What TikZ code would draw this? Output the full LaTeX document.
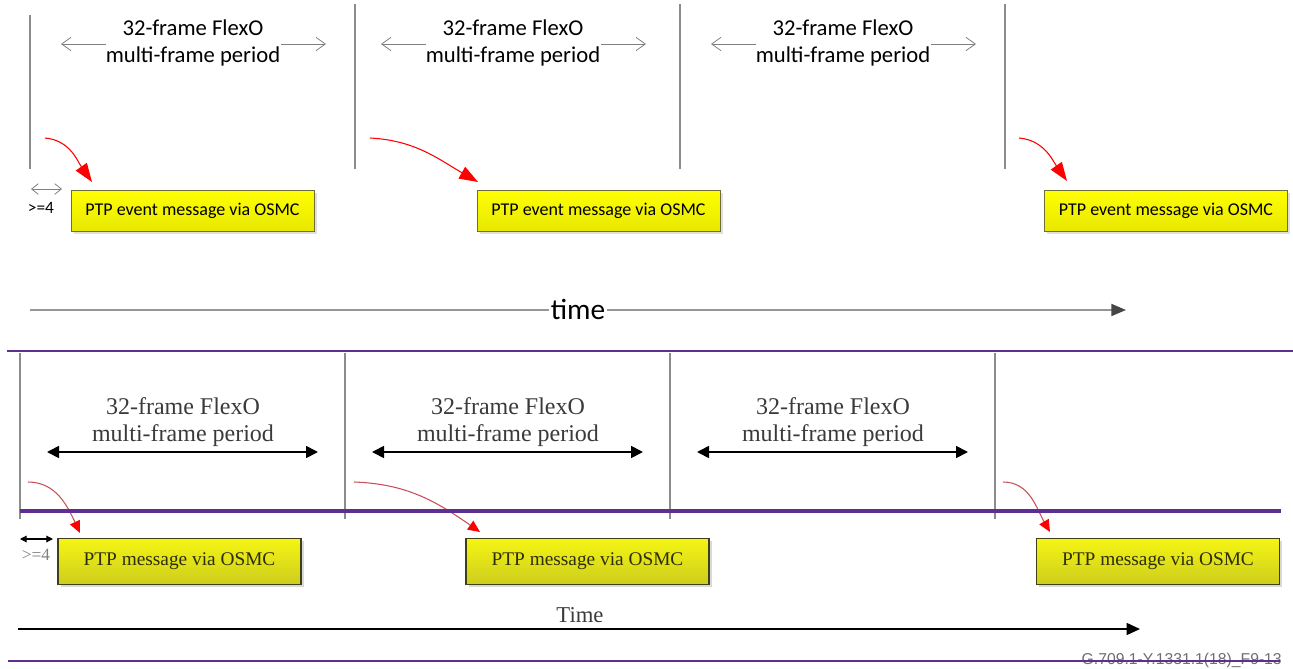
\documentclass[tikz,border=0pt]{standalone}
\usepackage{fontspec}
\setmainfont{Liberation Serif}
\newfontfamily\calfont{Carlito}
\newfontfamily\arialfont{Liberation Sans}
\usetikzlibrary{arrows.meta,shadows}
\definecolor{purp}{HTML}{5E2F91}
\definecolor{gline}{HTML}{8C8C8C}
\definecolor{boxolive}{HTML}{3F3F18}
\definecolor{txtolive}{HTML}{2E2E08}
\definecolor{lbl}{HTML}{3A3A3A}
\definecolor{redline}{HTML}{C8505A}
\tikzset{
  tline/.style={draw=gline, line width=1.1pt},
  toplbl/.style={font=\calfont\fontsize{17}{20.5}\selectfont, align=center, inner sep=0pt},
  botlbl/.style={font=\fontsize{18}{20.5}\selectfont, align=center, inner sep=0pt, text=lbl},
  topdim/.style={draw=gray, line width=0.6pt, -{Straight Barb[length=7pt,width=10pt]}},
  topred/.style={draw=red, line width=0.8pt, -{Triangle[length=14pt,width=10pt,fill=red]}},
  botred/.style={draw=redline, line width=0.8pt, -{Triangle[length=9pt,width=8pt,color=red,fill=red]}},
  botdim/.style={draw=black, line width=1.3pt, {Triangle[length=9pt,width=9pt]}-{Triangle[length=9pt,width=9pt]}},
  topbox/.style={draw={rgb,255:red,110;green,110;blue,60}, line width=0.6pt,
    top color=yellow, bottom color={rgb,255:red,232;green,232;blue,0},
    minimum width=182.25pt, minimum height=30.75pt, inner sep=0pt,
    font=\calfont\fontsize{13.5}{16}\selectfont,
    drop shadow={shadow xshift=2pt, shadow yshift=-2pt, opacity=0.25, fill=gray}},
  botbox/.style={draw=boxolive, line width=1.2pt,
    top color={rgb,255:red,245;green,245;blue,20}, bottom color={rgb,255:red,205;green,205;blue,30},
    minimum width=182.25pt, minimum height=34.5pt, inner sep=0pt, text=txtolive,
    font=\fontsize{14.5}{16}\selectfont,
    drop shadow={shadow xshift=2pt, shadow yshift=-2pt, opacity=0.3, fill=gray}},
  purpline/.style={draw=purp},
}
\begin{document}
\begin{tikzpicture}[x=0.75pt,y=-0.75pt]
\useasboundingbox (0,0) rectangle (1293,668);
% ================= TOP FIGURE =================
% vertical lines
\coordinate (tv1a) at (30,15);  \coordinate (tv1b) at (30,169);
\coordinate (tv2a) at (355,4);  \coordinate (tv2b) at (355,169);
\coordinate (tv3a) at (680,4);  \coordinate (tv3b) at (680,169);
\coordinate (tv4a) at (1005,4); \coordinate (tv4b) at (1005,169);
\draw[tline] (tv1a) -- (tv1b);
\draw[tline] (tv2a) -- (tv2b);
\draw[tline] (tv3a) -- (tv3b);
\draw[tline] (tv4a) -- (tv4b);
% period labels
\node[toplbl] (tl1) at (193,43) {32-frame FlexO\\multi-frame period};
\node[toplbl] (tl2) at (513,43) {32-frame FlexO\\multi-frame period};
\node[toplbl] (tl3) at (843,43) {32-frame FlexO\\multi-frame period};
% period arrows
\coordinate (ta1l) at (106,44); \coordinate (ta1le) at (61,44);
\coordinate (ta1r) at (281,44); \coordinate (ta1re) at (326,44);
\coordinate (ta2l) at (426,44); \coordinate (ta2le) at (381,44);
\coordinate (ta2r) at (601,44); \coordinate (ta2re) at (646,44);
\coordinate (ta3l) at (756,44); \coordinate (ta3le) at (711,44);
\coordinate (ta3r) at (931,44); \coordinate (ta3re) at (976,44);
\draw[topdim] (ta1l) -- (ta1le);
\draw[topdim] (ta1r) -- (ta1re);
\draw[topdim] (ta2l) -- (ta2le);
\draw[topdim] (ta2r) -- (ta2re);
\draw[topdim] (ta3l) -- (ta3le);
\draw[topdim] (ta3r) -- (ta3re);
% boxes
\node[topbox] (tb1) at (192.5,210.5) {PTP event message via OSMC};
\node[topbox] (tb2) at (598.5,210.5) {PTP event message via OSMC};
\node[topbox] (tb3) at (1166,210.5) {PTP event message via OSMC};
% red arrows
\coordinate (tr1s) at (45,138);   \coordinate (tr1e) at (92,182);
\coordinate (tr2s) at (370,138);  \coordinate (tr2e) at (478,182);
\coordinate (tr3s) at (1019,138); \coordinate (tr3e) at (1067,181);
\draw[topred] (tr1s) to[out=-5,in=125] (tr1e);
\draw[topred] (tr2s) to[out=-3,in=150] (tr2e);
\draw[topred] (tr3s) to[out=-5,in=125] (tr3e);
% >=4
\coordinate (tg4a) at (31,189); \coordinate (tg4b) at (62,189);
\draw[draw=gray, line width=0.6pt, {Straight Barb[length=5pt,width=8pt]}-{Straight Barb[length=5pt,width=8pt]}] (tg4a) -- (tg4b);
\node[font=\calfont\fontsize{13}{15}\selectfont, inner sep=0pt] (tg4t) at (41,208) {>=4};
% time axis
\coordinate (tts) at (30,310); \coordinate (tte) at (1126,310);
\draw[draw={rgb,255:red,150;green,150;blue,150}, line width=1.4pt, -{Triangle[length=11pt,width=9pt,color={rgb,255:red,70;green,70;blue,70}]}] (tts) -- (tte);
\node[font=\calfont\fontsize{22}{24}\selectfont, fill=white, inner sep=1pt] (ttime) at (578,309) {time};
% ================= SEPARATOR =================
\coordinate (p1a) at (7,351); \coordinate (p1b) at (1293,351);
\draw[purpline, line width=1.5pt] (p1a) -- (p1b);
% ================= BOTTOM FIGURE =================
\coordinate (bv1a) at (20,353);  \coordinate (bv1b) at (20,519);
\coordinate (bv2a) at (345,353); \coordinate (bv2b) at (345,519);
\coordinate (bv3a) at (670,353); \coordinate (bv3b) at (670,519);
\coordinate (bv4a) at (995,353); \coordinate (bv4b) at (995,519);
\draw[tline] (bv1a) -- (bv1b);
\draw[tline] (bv2a) -- (bv2b);
\draw[tline] (bv3a) -- (bv3b);
\draw[tline] (bv4a) -- (bv4b);
\node[botlbl] (bl1) at (183,422) {32-frame FlexO\\multi-frame period};
\node[botlbl] (bl2) at (508,422) {32-frame FlexO\\multi-frame period};
\node[botlbl] (bl3) at (833,422) {32-frame FlexO\\multi-frame period};
\coordinate (ba1a) at (47,452);  \coordinate (ba1b) at (318,452);
\coordinate (ba2a) at (372,452); \coordinate (ba2b) at (643,452);
\coordinate (ba3a) at (697,452); \coordinate (ba3b) at (968,452);
\draw[botdim] (ba1a) -- (ba1b);
\draw[botdim] (ba2a) -- (ba2b);
\draw[botdim] (ba3a) -- (ba3b);
\coordinate (br1s) at (28,482);   \coordinate (br1e) at (80,533);
\coordinate (br2s) at (354,482);  \coordinate (br2e) at (480,532);
\coordinate (br3s) at (1003,482); \coordinate (br3e) at (1050,532);
\draw[botred] (br1s) to[out=0,in=115] (br1e);
\draw[botred] (br2s) to[out=-2,in=145] (br2e);
\draw[botred] (br3s) to[out=0,in=120] (br3e);
\coordinate (p2a) at (20,511); \coordinate (p2b) at (1281,511);
\draw[purpline, line width=3pt] (p2a) -- (p2b);
\node[botbox] (bb1) at (179.5,561.5) {PTP message via OSMC};
\node[botbox] (bb2) at (587.5,561.5) {PTP message via OSMC};
\node[botbox] (bb3) at (1158,561.5) {PTP message via OSMC};
\coordinate (bg4a) at (20,539); \coordinate (bg4b) at (53,539);
\draw[black, line width=0.9pt, {Triangle[length=5pt,width=5pt]}-{Triangle[length=5pt,width=5pt]}] (bg4a) -- (bg4b);
\node[font=\fontsize{13}{15}\selectfont, text=gray, inner sep=0pt] (bg4t) at (36,555) {>=4};
\coordinate (bts) at (18,629); \coordinate (bte) at (1140,629);
\draw[black, line width=1.1pt, -{Triangle[length=10pt,width=9pt]}] (bts) -- (bte);
\node[font=\fontsize{17}{19}\selectfont, text=lbl, inner sep=0pt] (btime) at (580,615) {Time};
\node[font=\arialfont\fontsize{11.8}{13}\selectfont, text={rgb,255:red,110;green,110;blue,110}, anchor=east, inner sep=0pt] (fig) at (1282,660) {G.709.1-Y.1331.1(18)\_F9-13};
\coordinate (p3a) at (8,661); \coordinate (p3b) at (1280,661);
\draw[purpline, line width=1.5pt] (p3a) -- (p3b);
\end{tikzpicture}
\end{document}
